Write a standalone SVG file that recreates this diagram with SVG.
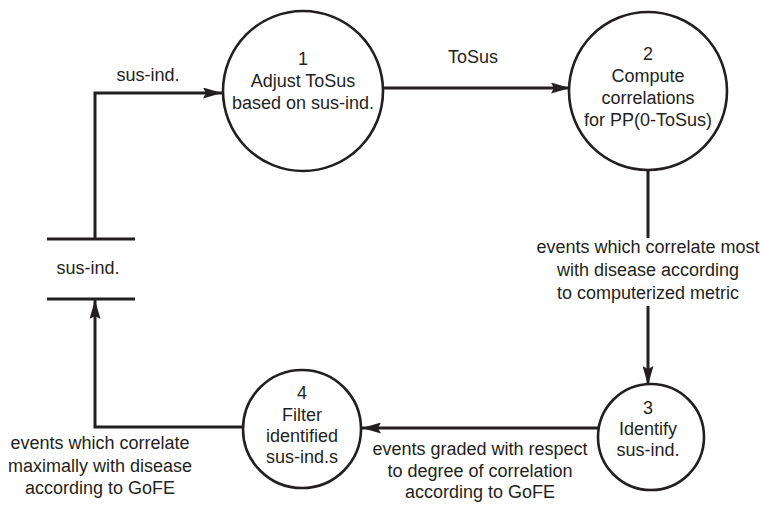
<svg xmlns="http://www.w3.org/2000/svg" width="764" height="507" viewBox="0 0 764 507">
  <style>
    text { font-family: "Liberation Sans", Arial, sans-serif; font-size: 18px; fill: #231f20; text-anchor: middle; }
    .proc { fill: #ffffff; stroke: #231f20; stroke-width: 2.6; }
    .flow { fill: none; stroke: #231f20; stroke-width: 3; }
    .store { stroke: #231f20; stroke-width: 3.2; }
  </style>
  <defs>
    <marker id="arrow" viewBox="0 0 19 11" refX="19" refY="5.5" markerWidth="19" markerHeight="11" markerUnits="userSpaceOnUse" orient="auto">
      <path d="M0,0 L19,5.5 L0,11 L3,5.5 z" fill="#231f20"/>
    </marker>
  </defs>

  <rect width="764" height="507" fill="#ffffff"/>

  <!-- data flows -->
  <g id="connectors">
    <path class="flow" d="M95,239 L95,93 L222,93" marker-end="url(#arrow)"/>
    <path class="flow" d="M384,88 L570,88" marker-end="url(#arrow)"/>
    <path class="flow" d="M648,171 L648,238"/>
    <path class="flow" d="M648,306 L648,385" marker-end="url(#arrow)"/>
    <path class="flow" d="M599,428 L362,428" marker-end="url(#arrow)"/>
    <path class="flow" d="M243,427 L95,427 L95,300" marker-end="url(#arrow)"/>
    <text x="148" y="81">sus-ind.</text>
    <text x="473" y="63">ToSus</text>
    <text x="648" y="253">events which correlate most</text>
    <text x="648" y="276">with disease according</text>
    <text x="648" y="299">to computerized metric</text>
    <text x="480" y="455">events graded with respect</text>
    <text x="480" y="477">to degree of correlation</text>
    <text x="480" y="498">according to GoFE</text>
    <text x="100" y="449">events which correlate</text>
    <text x="100" y="472">maximally with disease</text>
    <text x="100" y="494">according to GoFE</text>
  </g>

  <!-- data store -->
  <g id="store-sus-ind">
    <line class="store" x1="47" y1="239" x2="135" y2="239"/>
    <line class="store" x1="47" y1="299" x2="135" y2="299"/>
    <text x="88" y="274">sus-ind.</text>
  </g>

  <g id="process-1">
    <circle class="proc" cx="303" cy="91" r="80"/>
    <text x="303" y="65">1</text>
    <text x="303" y="87">Adjust ToSus</text>
    <text x="303" y="109">based on sus-ind.</text>
  </g>

  <g id="process-2">
    <circle class="proc" cx="648" cy="91" r="79"/>
    <text x="648" y="60">2</text>
    <text x="648" y="82">Compute</text>
    <text x="648" y="104">correlations</text>
    <text x="648" y="126">for PP(0-ToSus)</text>
  </g>

  <g id="process-3">
    <circle class="proc" cx="651" cy="437" r="53"/>
    <text x="648" y="414">3</text>
    <text x="648" y="435">Identify</text>
    <text x="648" y="456">sus-ind.</text>
  </g>

  <g id="process-4">
    <circle class="proc" cx="302" cy="429" r="59"/>
    <text x="302" y="399">4</text>
    <text x="302" y="421">Filter</text>
    <text x="302" y="442">identified</text>
    <text x="302" y="463">sus-ind.s</text>
  </g>
</svg>
